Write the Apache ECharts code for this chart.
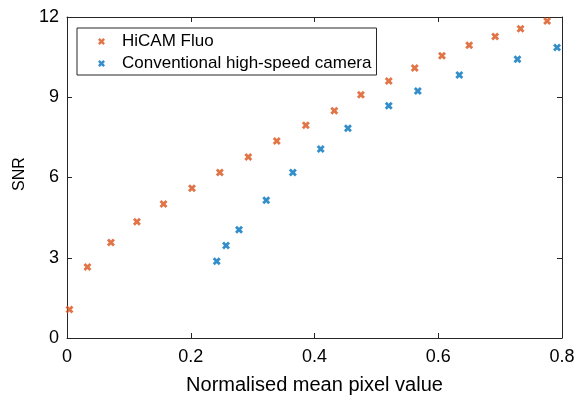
<!DOCTYPE html>
<html>
<head>
<meta charset="utf-8">
<script src="https://cdn.jsdelivr.net/npm/echarts@6/dist/echarts.min.js"></script>
<style>
html,body{margin:0;padding:0;background:#fff;}
#chart{width:584px;height:400px;}
</style>
</head>
<body>
<div id="chart"></div>
<script>
const hicamX = [0.004, 0.033, 0.071, 0.113, 0.156, 0.202, 0.247, 0.293, 0.339, 0.386, 0.432, 0.475, 0.520, 0.562, 0.606, 0.650, 0.692, 0.733, 0.776];
const hicamY = [1.07, 2.65, 3.57, 4.35, 5.01, 5.60, 6.19, 6.77, 7.36, 7.95, 8.50, 9.09, 9.61, 10.09, 10.55, 10.94, 11.27, 11.56, 11.85];
const convX = [0.242, 0.257, 0.278, 0.322, 0.365, 0.410, 0.454, 0.520, 0.567, 0.634, 0.728, 0.792];
const convY = [2.87, 3.46, 4.05, 5.15, 6.19, 7.07, 7.84, 8.68, 9.23, 9.83, 10.42, 10.86];
const xTicks = [0, 0.2, 0.4, 0.6, 0.8];
const yTicks = [0, 3, 6, 9, 12];
const seriesNames = ['HiCAM Fluo', 'Conventional high-speed camera'];
const xTitle = 'Normalised mean pixel value';
const yTitle = 'SNR';

const axisColor = '#262626';
const font = "'Liberation Sans', Arial, Helvetica, sans-serif";
const xMark = 'path://M0,2.5 L2.5,0 L5,2.5 L7.5,0 L10,2.5 L7.5,5 L10,7.5 L7.5,10 L5,7.5 L2.5,10 L0,7.5 L2.5,5 Z';

const zip = (xs, ys) => xs.map((x, i) => [x, ys[i]]);

const chart = echarts.init(document.getElementById('chart'), null, {renderer: 'canvas'});
const axLine = {show: true, onZero: false, lineStyle: {color: axisColor, width: 1}};
const axTick = {show: true, inside: true, length: 5, lineStyle: {color: axisColor, width: 1}};
chart.setOption({
  animation: false,
  backgroundColor: '#ffffff',
  grid: {left: 67, top: 17, width: 495, height: 327, containLabel: false},
  legend: {
    orient: 'vertical',
    left: 77, top: 28,
    data: seriesNames,
    itemWidth: 7, itemHeight: 7,
    itemGap: 5,
    padding: [5, 5, 3, 21],
    borderColor: axisColor, borderWidth: 1, backgroundColor: '#fff',
    textStyle: {fontFamily: font, fontSize: 17, color: '#000', padding: [0, 0, 0, 12]}
  },
  xAxis: [{
    type: 'value', min: 0, max: 0.8, interval: 0.2,
    position: 'bottom',
    axisLine: axLine, axisTick: axTick, splitLine: {show: false},
    axisLabel: {color: '#000', fontFamily: font, fontSize: 18, margin: 10,
      formatter: v => xTicks.includes(Math.round(v*10)/10) ? String(Math.round(v*10)/10) : ''},
    name: xTitle, nameLocation: 'middle', nameGap: 37,
    nameTextStyle: {color: '#000', fontFamily: font, fontSize: 20}
  }, {
    type: 'value', min: 0, max: 0.8, interval: 0.2,
    position: 'top',
    axisLine: axLine, axisTick: axTick, splitLine: {show: false},
    axisLabel: {show: false}
  }],
  yAxis: [{
    type: 'value', min: 0, max: 12, interval: 3,
    position: 'left',
    axisLine: axLine, axisTick: axTick, splitLine: {show: false},
    axisLabel: {color: '#000', fontFamily: font, fontSize: 18, margin: 8,
      formatter: v => yTicks.includes(v) ? String(v) : ''},
    name: yTitle, nameLocation: 'middle', nameGap: 37,
    nameTextStyle: {color: '#000', fontFamily: font, fontSize: 16, padding: [0, 0, 0, 7]}
  }, {
    type: 'value', min: 0, max: 12, interval: 3,
    position: 'right',
    axisLine: axLine, axisTick: axTick, splitLine: {show: false},
    axisLabel: {show: false}
  }],
  series: [{
    name: seriesNames[0], type: 'scatter', xAxisIndex: 0, yAxisIndex: 0,
    symbol: xMark, symbolSize: 8,
    itemStyle: {color: '#D95319'},
    data: zip(hicamX, hicamY)
  }, {
    name: seriesNames[1], type: 'scatter', xAxisIndex: 0, yAxisIndex: 0,
    symbol: xMark, symbolSize: 8,
    itemStyle: {color: '#0072BD'},
    data: zip(convX, convY)
  }]
});
</script>
</body>
</html>
